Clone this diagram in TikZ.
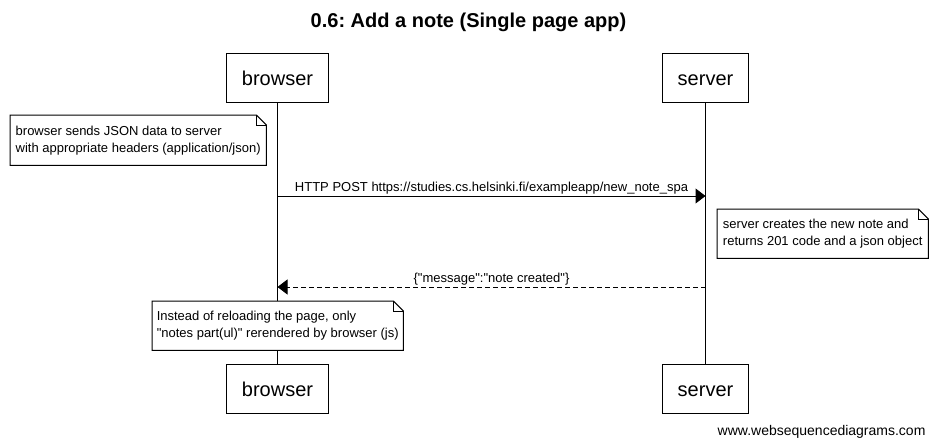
\documentclass[tikz,border=0pt]{standalone}
\usepackage{fontspec}
\setmainfont{Liberation Sans}
\usetikzlibrary{arrows.meta,positioning}
\frenchspacing

\tikzset{
  actor/.style={draw, line width=1pt, minimum height=49pt, inner xsep=15pt, text height=19pt, text depth=4pt, font=\fontsize{20}{24}\selectfont},
  seqnote/.style={anchor=north west, fill=white, inner xsep=0pt, inner ysep=0pt, align=left, font=\fontsize{13}{17}\selectfont},
  msg/.style={line width=1pt, -{Triangle[length=10pt,width=15pt]}},
  msglabel/.style={above, inner sep=1.5pt, font=\fontsize{13}{15}\selectfont},
}
% note outline with folded corner
\newcommand{\dogear}[1]{%
  \draw[line width=1pt] (#1.north west) -- ([xshift=-10pt]#1.north east) -- ([yshift=-10pt]#1.north east) -- (#1.south east) -- (#1.south west) -- cycle;
  \draw[line width=1pt] ([xshift=-10pt]#1.north east) |- ([yshift=-10pt]#1.north east);
}
\newcommand{\dq}{\textquotedbl}

\begin{document}
\begin{tikzpicture}[x=1pt, y=-1pt]
    \useasboundingbox (0,0) rectangle (937,447);
    \node[font=\bfseries\fontsize{20}{24}\selectfont] (title) at (468.5,22) {0.6: Add a note (Single page app)};

    % participants
    \node[actor] (browser top) at (277.5,77.5) {browser};
    \node[actor] (server top) at (705.5,77.5) {server};
    \node[actor] (browser bottom) at (277.5,388.5) {browser};
    \node[actor] (server bottom) at (705.5,388.5) {server};
    \draw[line width=1pt] (browser top) -- (browser bottom);
    \draw[line width=1pt] (server top) -- (server bottom);

    % notes
    \node[seqnote, minimum width=256pt, minimum height=50pt] (note send) at (10,115) {browser sends JSON data to server\\with appropriate headers (application/json)};
    \dogear{note send}
    \node[seqnote, minimum width=211pt, minimum height=49pt] (note create) at (717,209) {server creates the new note and\\returns 201 code and a json object};
    \dogear{note create}
    \node[seqnote, minimum width=251pt, minimum height=49pt] (note render) at (152,301) {Instead of reloading the page, only\\\dq notes part(ul)\dq{} rerendered by browser (js)};
    \dogear{note render}

    % messages
    \coordinate (post b) at (277.5,196);
    \coordinate (post s) at (705.5,196);
    \coordinate (reply s) at (705.5,287);
    \coordinate (reply b) at (277.5,287);
    \draw[msg] (post b) -- node[msglabel] {HTTP POST https://studies.cs.helsinki.fi/exampleapp/new\_note\_spa} (post s);
    \draw[msg, dash pattern=on 5pt off 3pt] (reply s) -- node[msglabel] {\{\dq message\dq:\dq note created\dq\}} (reply b);

    \node[anchor=east, font=\fontsize{14}{16}\selectfont] (credit) at (929,432) {www.websequencediagrams.com};
\end{tikzpicture}
\end{document}
